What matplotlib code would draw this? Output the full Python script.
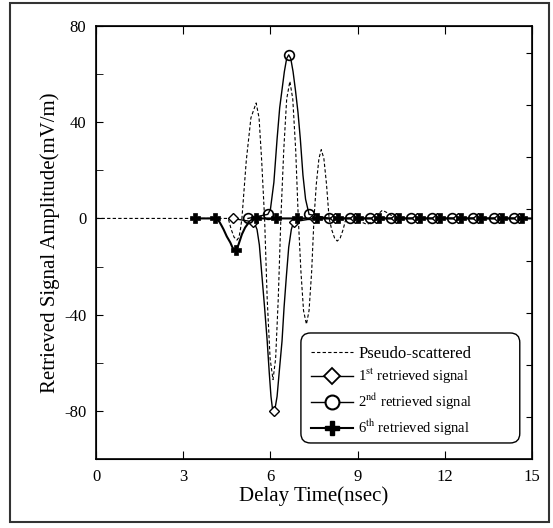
import numpy as np
import matplotlib.pyplot as plt
from matplotlib.lines import Line2D
from matplotlib.patches import Rectangle, FancyBboxPatch

plt.rcParams['font.family'] = ['Liberation Serif', 'DejaVu Serif']
plt.rcParams['mathtext.fontset'] = 'stix'
plt.rcParams['axes.unicode_minus'] = False

# pseudo-scattered reference signal (dashed)
pseudo_t = [0, 4.55, 4.65, 4.75, 4.85, 4.92, 4.97, 5.02, 5.17, 5.33, 5.51, 5.61, 5.70, 5.80,
            5.89, 5.99, 6.09, 6.18, 6.27, 6.36, 6.46, 6.56, 6.67, 6.77, 6.87, 6.96,
            7.05, 7.14, 7.24, 7.33, 7.42, 7.50, 7.58, 7.67, 7.75, 7.84, 7.93, 8.02,
            8.11, 8.21, 8.30, 8.40, 8.50, 8.60, 9.00, 9.15, 9.33, 9.47, 9.60, 9.72,
            9.85, 10.05, 10.30, 15]
pseudo_v = [0, 0, -4.5, -7.8, -9, -7.8, -4.5, 0, 24, 41.8, 48, 41.8, 24, 0,
            -33.5, -58.3, -67, -58.3, -33.5, 0, 28.5, 49.6, 57, 49.6, 28.5, 0,
            -22, -38.3, -44, -38.3, -22, 0, 14.3, 24.9, 28.6, 24.9, 14.3, 0,
            -4.7, -8.2, -9.4, -8.2, -4.7, 0, 0, -1.6, -2.5, -1.5, 0, 1.9,
            3.4, 2.2, 0, 0]

# 1st retrieved signal
first_t = [4.70, 5.39, 5.47, 5.54, 5.62, 5.71, 5.80, 5.89, 5.96, 6.02, 6.07, 6.11, 6.16,
           6.23, 6.31, 6.40, 6.47, 6.55, 6.63, 6.72, 6.80, 7.51, 14.57]
first_v = [0, -1.4, -2.5, -4.6, -11, -24, -37, -51, -64, -74, -79, -80, -79,
           -74, -63, -51, -37, -24, -12, -4.6, -1.4, 0, 0]
first_mt = [4.70, 5.39, 6.11, 6.80, 7.51, 8.21, 8.92, 9.62, 10.33, 11.04, 11.74, 12.45,
            13.15, 13.86, 14.57]
first_mv = [0, -1.4, -80, -1.4, 0, 0, 0, 0, 0, 0, 0, 0, 0, 0, 0]

# 2nd retrieved signal
second_t = [5.23, 5.91, 6.00, 6.12, 6.23, 6.32, 6.40, 6.48, 6.56, 6.63, 6.70, 6.78, 6.86,
            6.95, 7.03, 7.12, 7.21, 7.33, 8.02, 14.39]
second_v = [0, 1.7, 3.7, 15, 33, 46, 53.5, 61, 66.5, 68, 66.5, 61, 53.5,
            44, 33, 18, 8, 1.7, 0, 0]
second_mt = [5.23, 5.91, 6.63, 7.33, 8.02, 8.73, 9.44, 10.14, 10.85, 11.56, 12.26, 12.97,
             13.68, 14.39]
second_mv = [0, 1.7, 68, 1.7, 0, 0, 0, 0, 0, 0, 0, 0, 0, 0]

# 6th retrieved signal
sixth_t = [3.39, 4.10, 4.18, 4.25, 4.32, 4.39, 4.50, 4.62, 4.70, 4.80, 4.90, 5.02, 5.13,
           5.25, 5.38, 5.51, 15]
sixth_v = [0, 0, -0.5, -1.5, -3, -4.6, -7.5, -10, -12.2, -13.2, -11, -6.6, -3.8,
           -1.8, -0.5, 0, 0]
sixth_mt = [3.39, 4.10, 4.80, 5.51, 6.21, 6.92, 7.62, 8.33, 9.03, 9.74, 10.44, 11.15,
            11.85, 12.56, 13.26, 13.97, 14.67]
sixth_mv = [0, 0, -13.2, 0, 0, 0, 0, 0, 0, 0, 0, 0, 0, 0, 0, 0, 0]

xticks = [0, 3, 6, 9, 12, 15]
yticks = [-80, -40, 0, 40, 80]

fig = plt.figure(figsize=(5.53, 5.28), dpi=100)
ax = fig.add_axes([0.1736, 0.1307, 0.7884, 0.8201])

ax.plot(pseudo_t, pseudo_v, 'k--', lw=0.8, dashes=(3, 2))
ax.plot(first_t, first_v, 'k-', lw=1.0)
ax.plot(second_t, second_v, 'k-', lw=1.0)
ax.plot(sixth_t, sixth_v, 'k-', lw=1.5)

ax.plot(first_mt, first_mv, ls='none', marker='D', ms=5, mfc='white', mec='k', mew=1.0)
ax.plot(second_mt, second_mv, ls='none', marker='o', ms=7, mfc='none', mec='k', mew=1.2)
ax.plot(sixth_mt, sixth_mv, ls='none', marker='P', ms=7, mfc='k', mec='k', mew=0.5)

ax.set_xlim(0, 15)
ax.set_ylim(-100, 80)
ax.set_xticks(xticks)
ax.set_yticks(yticks)
ax.set_yticks([-60, -20, 20, 60], minor=True)
ax.tick_params(axis='both', which='both', direction='in', labelsize=12, pad=7)
ax.tick_params(axis='x', which='major', length=6, top=True)
ax.tick_params(axis='y', which='both', length=5)
for sp in ax.spines.values():
    sp.set_linewidth(1.2)

ax2 = ax.twinx()
ax2.set_ylim(0, 1)
ax2.set_yticks([0.097, 0.217, 0.337, 0.457, 0.577, 0.697, 0.817, 0.937])
ax2.tick_params(direction='in', length=4, labelright=False)

ax.set_xlabel('Delay Time(nsec)', fontsize=15, labelpad=1)
ax.set_ylabel('Retrieved Signal Amplitude(mV/m)', fontsize=15, labelpad=3)

handles = [
    Line2D([], [], color='k', ls='--', lw=0.8, dashes=(3, 2)),
    Line2D([], [], color='k', lw=1.0, marker='D', ms=8, mfc='white', mec='k', mew=1.3),
    Line2D([], [], color='k', lw=1.0, marker='o', ms=10, mfc='white', mec='k', mew=1.5),
    Line2D([], [], color='k', lw=1.5, marker='P', ms=10, mfc='k', mec='k'),
]
labels = ['Pseudo-scattered', '1$^{\\mathrm{st}}$ retrieved signal',
          '2$^{\\mathrm{nd}}$ retrieved signal', '6$^{\\mathrm{th}}$ retrieved signal']
leg = ax.legend(handles, labels, loc='upper left', bbox_to_anchor=(0.493, 0.262),
                fontsize=10.5, handlelength=2.9, handletextpad=0.35, labelspacing=0.38,
                borderpad=0, borderaxespad=0, frameon=False)
leg.get_texts()[0].set_fontsize(12)

box = FancyBboxPatch((0.470, 0.037), 0.502, 0.254, transform=ax.transAxes,
                     boxstyle='round,pad=0,rounding_size=0.022',
                     facecolor='white', edgecolor='k', lw=1.0, zorder=4)
ax.add_patch(box)
leg.set_zorder(5)

fig.patches.append(Rectangle((10 / 553, 6 / 528), 539 / 553, 519 / 528, transform=fig.transFigure,
                             fill=False, edgecolor='#333333', lw=1.5))

fig.savefig('out.png', dpi=100)
